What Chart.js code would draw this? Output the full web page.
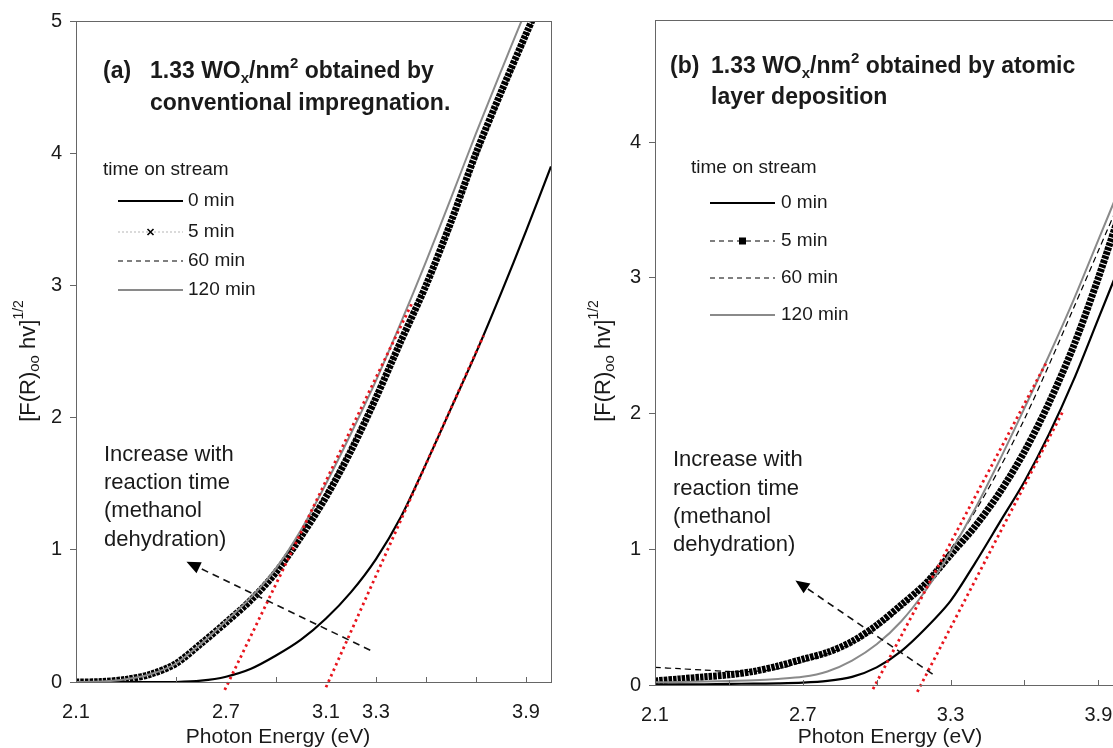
<!DOCTYPE html>
<html>
<head>
<meta charset="utf-8">
<script src="https://cdn.jsdelivr.net/npm/chart.js@4.4.1/dist/chart.umd.min.js"></script>
<style>
html, body { margin: 0; padding: 0; background: #fff; overflow: hidden; width: 1113px; height: 748px; }
.box { position: absolute; top: 0; height: 748px; width: 560px; }
#boxA { left: 0; }
#boxB { left: 580px; }
</style>
</head>
<body>
<div class="box" id="boxA"><canvas id="chartA"></canvas></div>
<div class="box" id="boxB"><canvas id="chartB"></canvas></div>
<script>
// photon energy (eV), same grid for all curves
var energy = [2.1, 2.2, 2.3, 2.4, 2.5, 2.6, 2.7, 2.8, 2.9, 3.0, 3.1, 3.2, 3.3, 3.4, 3.5, 3.6, 3.7, 3.8, 3.9, 4.0];

// (a) conventional impregnation
var a0min   = [0, 0, 0, 0, 0, 0.01, 0.04, 0.1, 0.2, 0.32, 0.48, 0.68, 0.93, 1.25, 1.65, 2.07, 2.49, 2.94, 3.41, 3.9];
var a5min   = [0, 0.003, 0.02, 0.06, 0.14, 0.29, 0.45, 0.62, 0.83, 1.1, 1.4, 1.75, 2.15, 2.58, 3.0, 3.48, 4.0, 4.46, 4.9, 5.33];
var a60min  = [0, 0.003, 0.02, 0.06, 0.14, 0.29, 0.45, 0.63, 0.85, 1.12, 1.43, 1.78, 2.17, 2.58, 2.99, 3.46, 3.96, 4.43, 4.88, 5.3];
var a120min = [0, 0.003, 0.02, 0.06, 0.14, 0.29, 0.46, 0.64, 0.86, 1.15, 1.5, 1.88, 2.28, 2.72, 3.18, 3.66, 4.15, 4.62, 5.08, 5.5];
// red tangent lines (a)
var aFit1x = [2.695, 3.445], aFit1y = [-0.06, 2.87];
var aFit2x = [3.10, 3.73],   aFit2y = [-0.04, 2.62];

// (b) atomic layer deposition
var b0min   = [0.005, 0.005, 0.005, 0.008, 0.01, 0.012, 0.017, 0.03, 0.06, 0.13, 0.25, 0.42, 0.62, 0.9, 1.2, 1.5, 1.85, 2.25, 2.7, 3.15];
var b5min   = [0.03, 0.045, 0.06, 0.075, 0.1, 0.14, 0.19, 0.24, 0.32, 0.44, 0.59, 0.75, 0.96, 1.17, 1.42, 1.72, 2.08, 2.5, 3.0, 3.55];
var b60min  = [0.13, 0.12, 0.11, 0.1, 0.1, 0.12, 0.17, 0.23, 0.31, 0.42, 0.57, 0.76, 1.0, 1.28, 1.6, 1.96, 2.36, 2.78, 3.2, 3.62];
var b120min = [0.02, 0.022, 0.025, 0.03, 0.035, 0.045, 0.06, 0.1, 0.18, 0.3, 0.47, 0.7, 0.98, 1.3, 1.66, 2.04, 2.43, 2.84, 3.28, 3.72];
// red tangent lines (b)
var bFit1x = [2.985, 3.69], bFit1y = [-0.03, 2.38];
var bFit2x = [3.165, 3.76], bFit2y = [-0.05, 2.03];

// arrows [tailE, tailV, tipE, tipV]
var arrowA = [3.277, 0.24, 2.542, 0.91];
var arrowB = [3.227, 0.08, 2.67, 0.77];

// ticks
var xMarksA  = [2.1, 2.5, 2.9, 3.3, 3.5, 3.7, 3.9];
var xLabelsA = [2.1, 2.7, 3.1, 3.3, 3.9];
var xMarksB  = [2.1, 2.4, 2.7, 3.0, 3.3, 3.6, 3.9];
var xLabelsB = [2.1, 2.7, 3.3, 3.9];
var yTicksA  = [0, 1, 2, 3, 4, 5];
var yTicksB  = [0, 1, 2, 3, 4];

var legendNames = ['0 min', '5 min', '60 min', '120 min'];
var noteLines = ['Increase with', 'reaction time', '(methanol', 'dehydration)'];

var FONT = '"Liberation Sans", Arial, sans-serif';
var AXIS = '#666';

function pts(xs, ys) {
    return xs.map(function (x, i) { return { x: x, y: ys[i] }; });
}

// text made of pieces: [text, size, bold, dy]
function rich(ctx, x, y, parts, measureOnly) {
    var cx = x;
    parts.forEach(function (p) {
        ctx.font = (p[2] ? 'bold ' : '') + p[1] + 'px ' + FONT;
        if (!measureOnly) ctx.fillText(p[0], cx, y + (p[3] || 0));
        cx += ctx.measureText(p[0]).width;
    });
    return cx - x;
}

var yTitleParts = [['[F(R)', 22, false, 0], ['oo', 15, false, 6], [' hv]', 22, false, 0], ['1/2', 14, false, -10]];

var panelPlugin = {
    id: 'panel',
    afterDatasetsDraw: function (chart, args, o) {
        var ctx = chart.ctx, a = chart.chartArea;
        var xs = chart.scales.x, ys = chart.scales.y;
        ctx.save();
        // frame
        ctx.strokeStyle = AXIS; ctx.lineWidth = 1;
        ctx.strokeRect(a.left + 0.5, a.top + 0.5, a.right - a.left, a.bottom - a.top);
        // inner x tick marks
        o.xMarks.forEach(function (v) {
            var px = Math.round(xs.getPixelForValue(v)) + 0.5;
            ctx.beginPath(); ctx.moveTo(px, a.bottom); ctx.lineTo(px, a.bottom - 5); ctx.stroke();
        });

        ctx.fillStyle = '#1a1a1a'; ctx.textBaseline = 'alphabetic'; ctx.textAlign = 'left';
        // panel title
        rich(ctx, o.tagX, o.title1Y, [[o.tag, 23, true]]);
        rich(ctx, o.titleX, o.title1Y, [['1.33 WO', 23, true], ['x', 15, true, 5], ['/nm', 23, true], ['2', 15, true, -10], [o.title1, 23, true]]);
        rich(ctx, o.titleX, o.title2Y, [[o.title2, 23, true]]);

        // legend
        ctx.textBaseline = 'middle';
        ctx.font = '19px ' + FONT;
        ctx.fillText('time on stream', o.legX, o.legHeadY);
        o.legRows.forEach(function (ry, i) {
            var st = o.legStyles[i];
            ctx.save();
            ctx.strokeStyle = st.color; ctx.lineWidth = st.width;
            ctx.setLineDash(st.dash || []);
            ctx.beginPath(); ctx.moveTo(o.legL1, ry); ctx.lineTo(o.legL2, ry); ctx.stroke();
            ctx.setLineDash([]);
            var mx = (o.legL1 + o.legL2) / 2;
            if (st.marker === 'x') {
                ctx.strokeStyle = '#000'; ctx.lineWidth = 1.6;
                ctx.beginPath(); ctx.moveTo(mx - 3, ry - 3); ctx.lineTo(mx + 3, ry + 3);
                ctx.moveTo(mx - 3, ry + 3); ctx.lineTo(mx + 3, ry - 3); ctx.stroke();
            } else if (st.marker === 'sq') {
                ctx.fillStyle = '#000'; ctx.fillRect(mx - 3.5, ry - 3.5, 7, 7);
            }
            ctx.restore();
            ctx.fillText(legendNames[i], o.legText, ry);
        });

        // annotation text
        ctx.font = '22px ' + FONT;
        noteLines.forEach(function (t, i) { ctx.fillText(t, o.noteX, o.noteY[i]); });

        // arrow
        var ar = o.arrow;
        var x1 = xs.getPixelForValue(ar[0]), y1 = ys.getPixelForValue(ar[1]);
        var x2 = xs.getPixelForValue(ar[2]), y2 = ys.getPixelForValue(ar[3]);
        var ang = Math.atan2(y2 - y1, x2 - x1);
        ctx.strokeStyle = '#111'; ctx.lineWidth = 1.6; ctx.setLineDash([7, 5]);
        ctx.beginPath(); ctx.moveTo(x1, y1);
        ctx.lineTo(x2 - 10 * Math.cos(ang), y2 - 10 * Math.sin(ang)); ctx.stroke();
        ctx.setLineDash([]);
        ctx.fillStyle = '#000';
        ctx.beginPath(); ctx.moveTo(x2, y2);
        ctx.lineTo(x2 - 14 * Math.cos(ang) + 6 * Math.sin(ang), y2 - 14 * Math.sin(ang) - 6 * Math.cos(ang));
        ctx.lineTo(x2 - 14 * Math.cos(ang) - 6 * Math.sin(ang), y2 - 14 * Math.sin(ang) + 6 * Math.cos(ang));
        ctx.closePath(); ctx.fill();

        // axis titles
        ctx.fillStyle = '#1a1a1a';
        ctx.font = '21px ' + FONT; ctx.textAlign = 'center'; ctx.textBaseline = 'middle';
        ctx.fillText('Photon Energy (eV)', o.xTitleX, 737);
        ctx.textAlign = 'left';
        ctx.translate(o.yTitleX, 361); ctx.rotate(-Math.PI / 2);
        var w = rich(ctx, 0, 0, yTitleParts, true);
        rich(ctx, -w / 2, 0, yTitleParts);
        ctx.restore();
    }
};

function fitLine(xs, ys) {
    return {
        data: pts(xs, ys), borderColor: '#e8141c', borderWidth: 2.8, borderDash: [2.5, 3.5],
        pointRadius: 0, order: 0, tension: 0, clip: { left: 0, top: 0, right: 0, bottom: 10 }
    };
}

function makeChart(id, sets, p) {
    var ds = [
        fitLine(sets.fit1x, sets.fit1y),
        fitLine(sets.fit2x, sets.fit2y),
        { data: pts(energy, sets.m0), borderColor: '#000', borderWidth: 2.2, order: 2 },
        { data: pts(energy, sets.m60), borderColor: '#000', borderWidth: 1.2, borderDash: [6, 4], order: 3 },
        { data: pts(energy, sets.m5), borderColor: '#000', borderWidth: 7, borderDash: [3.5, 1], order: 4 },
        { data: pts(energy, sets.m120), borderColor: '#8a8a8a', borderWidth: 2, order: 1 }
    ];
    ds.forEach(function (d, i) {
        d.pointRadius = 0; d.fill = false;
        if (i > 1) d.tension = 0.3;
    });

    return new Chart(document.getElementById(id), {
        type: 'line',
        data: { datasets: ds },
        plugins: [panelPlugin],
        options: {
            responsive: true,
            maintainAspectRatio: false,
            animation: false,
            devicePixelRatio: 1,
            events: [],
            layout: { padding: { left: 0, top: p.top, right: p.right, bottom: 0 } },
            plugins: { legend: { display: false }, tooltip: { enabled: false }, panel: p },
            scales: {
                x: {
                    type: 'linear', min: 2.1, max: 4.0,
                    afterBuildTicks: function (s) { s.ticks = p.xLabels.map(function (v) { return { value: v }; }); },
                    afterFit: function (s) { s.height = p.xAxisH; },
                    grid: { display: false },
                    border: { display: true, color: AXIS, width: 1 },
                    ticks: { color: '#1a1a1a', font: { family: FONT, size: 20 }, padding: 10, maxRotation: 0, autoSkip: false,
                        callback: function (v) { return Number(v).toFixed(1); } }
                },
                y: {
                    min: 0, max: p.yMax,
                    afterBuildTicks: function (s) { s.ticks = p.yTicks.map(function (v) { return { value: v }; }); },
                    afterFit: function (s) { s.width = p.yAxisW; },
                    grid: { drawOnChartArea: false, drawTicks: true, tickLength: 6, color: AXIS },
                    border: { display: true, color: AXIS, width: 1 },
                    ticks: { color: '#1a1a1a', font: { family: FONT, size: 20 }, padding: 8,
                        callback: function (v) { return String(v); } }
                }
            }
        }
    });
}

makeChart('chartA',
    { m0: a0min, m5: a5min, m60: a60min, m120: a120min, fit1x: aFit1x, fit1y: aFit1y, fit2x: aFit2x, fit2y: aFit2y },
    {
        top: 21, right: 9, xAxisH: 66, yAxisW: 76, yMax: 5, yTicks: yTicksA,
        xLabels: xLabelsA, xMarks: xMarksA,
        tag: '(a)', tagX: 103, titleX: 150, title1Y: 78, title2Y: 110,
        title1: ' obtained by', title2: 'conventional impregnation.',
        legX: 103, legHeadY: 170, legRows: [201, 232, 261, 290], legL1: 118, legL2: 183, legText: 188,
        legStyles: [
            { color: '#000', width: 2 },
            { color: '#b5b5b5', width: 1, dash: [2, 2], marker: 'x' },
            { color: '#000', width: 1.2, dash: [5, 4] },
            { color: '#8a8a8a', width: 2 }
        ],
        noteX: 104, noteY: [455, 483, 511, 540],
        arrow: arrowA, xTitleX: 278, yTitleX: 29
    });

makeChart('chartB',
    { m0: b0min, m5: b5min, m60: b60min, m120: b120min, fit1x: bFit1x, fit1y: bFit1y, fit2x: bFit2x, fit2y: bFit2y },
    {
        top: 19, right: 17, xAxisH: 63, yAxisW: 75, yMax: 4.9, yTicks: yTicksB,
        xLabels: xLabelsB, xMarks: xMarksB,
        tag: '(b)', tagX: 90, titleX: 131, title1Y: 73, title2Y: 104,
        title1: ' obtained by atomic', title2: 'layer deposition',
        legX: 111, legHeadY: 168, legRows: [203, 241, 278, 315], legL1: 130, legL2: 195, legText: 201,
        legStyles: [
            { color: '#000', width: 2 },
            { color: '#000', width: 1.2, dash: [5, 4], marker: 'sq' },
            { color: '#000', width: 1.2, dash: [5, 4] },
            { color: '#8a8a8a', width: 2 }
        ],
        noteX: 93, noteY: [460, 489, 517, 545],
        arrow: arrowB, xTitleX: 310, yTitleX: 24
    });
</script>
</body>
</html>
